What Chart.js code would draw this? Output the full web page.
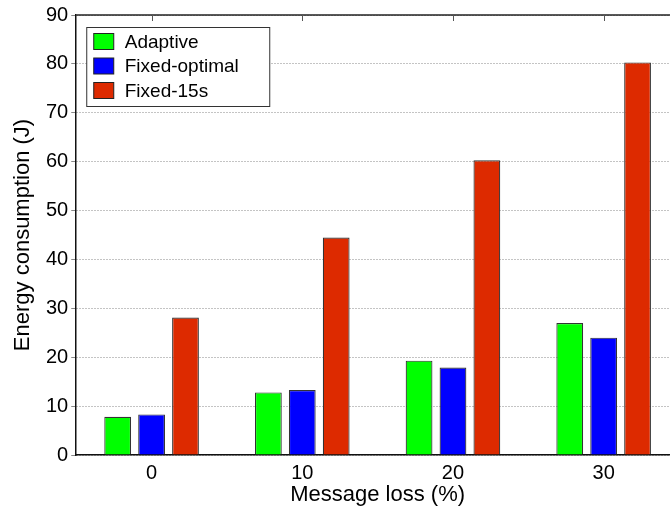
<!DOCTYPE html>
<html>
<head>
<meta charset="utf-8">
<script src="https://cdn.jsdelivr.net/npm/chart.js@4.4.0/dist/chart.umd.min.js"></script>
<style>
  html, body { margin: 0; padding: 0; background: #fff; overflow: hidden; }
  #wrap { width: 690px; height: 512px; }
</style>
</head>
<body>
<div id="wrap"><canvas id="mainChart"></canvas></div>
<script>
// message loss categories (%)
var lossLabels = ["0", "10", "20", "30"];
// energy consumption (J)
var adaptive = [7.8, 12.8, 19.3, 27.0];
var fixedOptimal = [8.3, 13.3, 17.9, 24.0];
var fixed15s = [28.1, 44.5, 60.3, 80.3];
var yTicks = [0, 10, 20, 30, 40, 50, 60, 70, 80, 90];

var FONT = "'Liberation Sans', Arial, Helvetica, sans-serif";

// legend box inside the plot + top frame line with ticks
var frameAndLegend = {
  id: "frameAndLegend",
  afterDatasetsDraw: function(chart) {
    var ctx = chart.ctx, a = chart.chartArea, xs = chart.scales.x;
    ctx.save();
    ctx.strokeStyle = "#222";
    ctx.lineWidth = 1.5;
    ctx.beginPath();
    ctx.moveTo(a.left, a.top);
    ctx.lineTo(a.right, a.top);
    ctx.stroke();
    ctx.lineWidth = 1;
    ctx.strokeStyle = "#555";
    lossLabels.forEach(function(l, i) {
      var px = Math.round(xs.getPixelForValue(i)) + 0.5;
      ctx.beginPath();
      ctx.moveTo(px, a.top);
      ctx.lineTo(px, a.top + 6);
      ctx.stroke();
    });
    // legend
    var bx = a.left + 10.5, by = a.top + 12.5, bw = 183, bh = 79;
    ctx.fillStyle = "#fff";
    ctx.fillRect(bx, by, bw, bh);
    ctx.strokeStyle = "#333";
    ctx.strokeRect(bx, by, bw, bh);
    ctx.font = "19px " + FONT;
    ctx.textBaseline = "middle";
    chart.data.datasets.forEach(function(ds, i) {
      var cy = by + 14 + i * 24.5;
      ctx.fillStyle = ds.backgroundColor;
      ctx.fillRect(bx + 7, cy - 8, 20, 16);
      ctx.strokeStyle = "#222";
      ctx.strokeRect(bx + 7, cy - 8, 20, 16);
      ctx.fillStyle = "#000";
      ctx.fillText(ds.label, bx + 38, cy + 1);
    });
    ctx.restore();
  }
};

var ctx = document.getElementById("mainChart").getContext("2d");
var chart = new Chart(ctx, {
  type: "bar",
  data: {
    labels: lossLabels,
    datasets: [
      { label: "Adaptive", data: adaptive, backgroundColor: "#00ff00" },
      { label: "Fixed-optimal", data: fixedOptimal, backgroundColor: "#0000ff" },
      { label: "Fixed-15s", data: fixed15s, backgroundColor: "#dd2a00" }
    ]
  },
  options: {
    responsive: true,
    maintainAspectRatio: false,
    animation: false,
    layout: { padding: { top: 6, right: 11, left: 12, bottom: 6 } },
    datasets: {
      bar: {
        borderColor: "#333",
        borderWidth: 1.2,
        categoryPercentage: 0.675,
        barPercentage: 0.79
      }
    },
    plugins: {
      legend: { display: false },
      tooltip: { enabled: false }
    },
    scales: {
      x: {
        grid: { display: false, drawTicks: false },
        border: { display: true, color: "#111", width: 1.5 },
        ticks: { color: "#000", font: { family: FONT, size: 20, lineHeight: 1 }, padding: 8 },
        title: {
          display: true,
          text: "Message loss (%)",
          color: "#000",
          font: { family: FONT, size: 22, lineHeight: 1 },
          padding: { top: -7, bottom: 0 }
        }
      },
      y: {
        min: 0,
        max: 90,
        afterBuildTicks: function(scale) {
          scale.ticks = yTicks.map(function(v) { return { value: v }; });
        },
        grid: { color: "#888", lineWidth: 1, tickLength: 5 },
        border: { display: true, color: "#111", width: 1.5, dash: [1, 2] },
        ticks: { color: "#000", font: { family: FONT, size: 20 }, padding: 3 },
        title: {
          display: true,
          text: "Energy consumption (J)",
          color: "#000",
          font: { family: FONT, size: 22, lineHeight: 1 },
          padding: { top: 0, bottom: 9 }
        }
      }
    }
  },
  plugins: [frameAndLegend]
});
</script>
</body>
</html>
